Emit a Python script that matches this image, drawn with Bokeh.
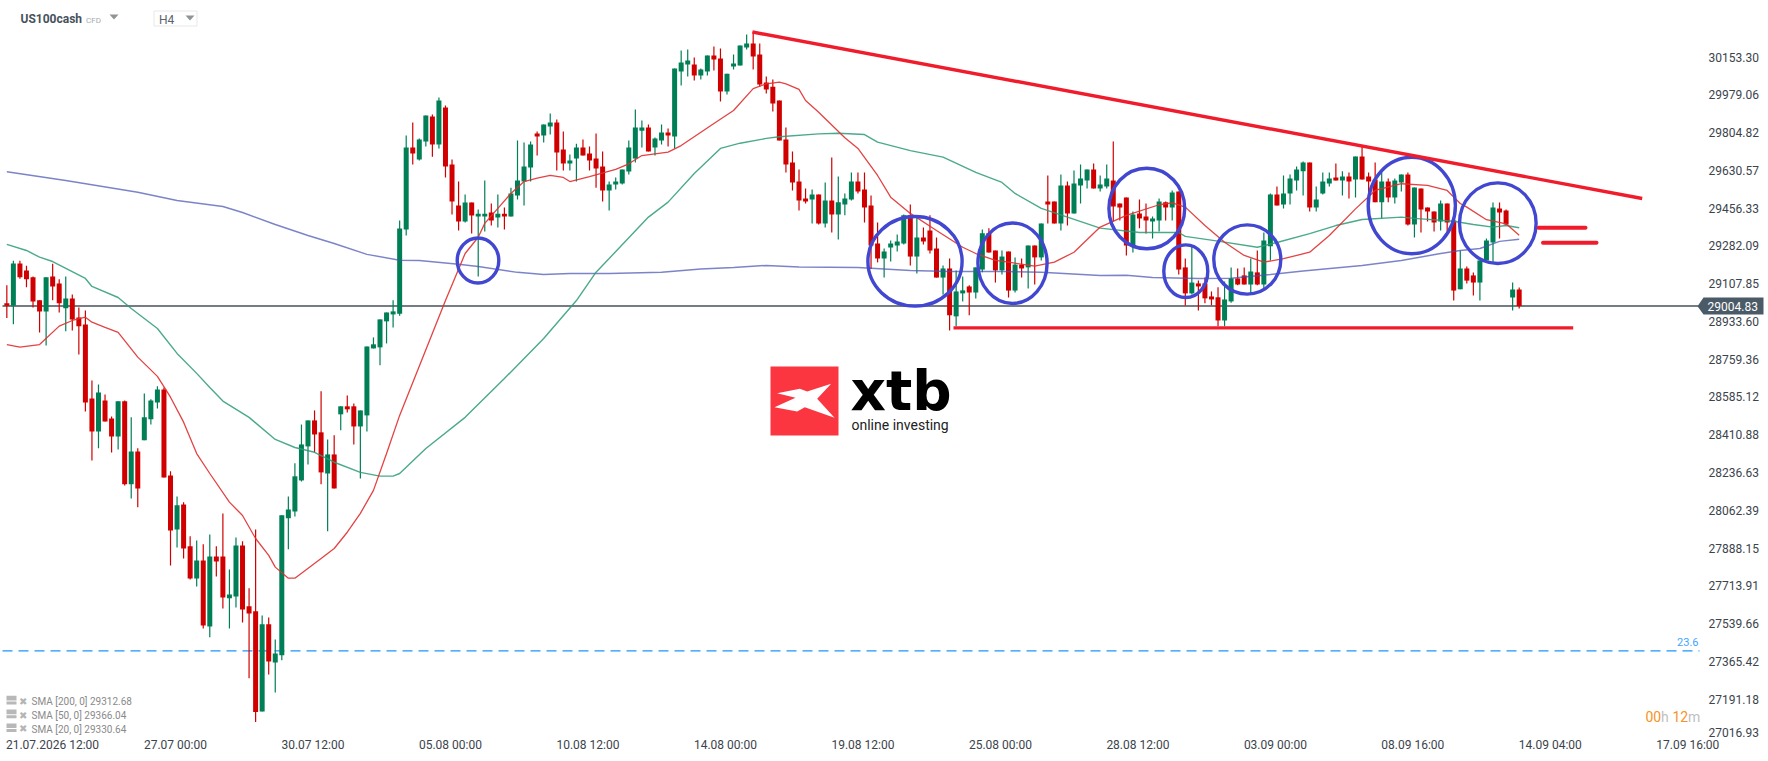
from bokeh.plotting import figure
from bokeh.models import Range1d, FixedTicker, ColumnDataSource, LinearAxis
from bokeh.core.properties import value
from bokeh.embed import file_html
from bokeh.resources import INLINE

open_ = [
29017,29006,29201,29169,29137,29031,28980,29141,29109,28994,
29040,28952,28920,28578,28426,28569,28486,28403,28565,28182,
28334,28385,28482,28560,28620,28223,27974,28089,27896,27748,
27831,27526,27849,27849,27656,27665,27900,27619,27596,27134,
27536,27360,27393,28025,28057,28200,28357,28477,28422,28232,
28320,28505,28542,28542,28449,28500,28809,28814,28934,28966,
28969,29358,29736,29681,29764,29879,29750,29921,29658,29468,
29395,29482,29418,29418,29436,29413,29431,29418,29515,29579,
29644,29801,29791,29833,29851,29727,29662,29685,29736,29708,
29685,29648,29538,29565,29570,29625,29685,29814,29828,29736,
29768,29805,29787,30087,30119,30119,30068,30087,30161,30147,
29994,30110,30114,30197,30216,30165,30036,30017,29953,29773,
29667,29579,29501,29496,29519,29386,29492,29427,29473,29496,
29579,29542,29469,29293,29224,29275,29284,29293,29423,29233,
29321,29353,29270,29136,29178,28957,29063,29095,29067,29173,
29340,29261,29169,29256,29076,29196,29183,29284,29229,29487,
29487,29386,29561,29432,29561,29584,29635,29547,29556,29584,
29478,29506,29284,29432,29418,29395,29399,29483,29459,29533,
29183,29063,29109,29109,29049,29045,28938,29026,29132,29146,
29104,29160,29104,29280,29519,29473,29524,29584,29626,29667,
29459,29524,29570,29598,29584,29602,29589,29695,29602,29589,
29483,29579,29506,29575,29612,29381,29547,29459,29441,29395,
29478,29399,29082,29178,29146,29113,29215,29298,29455,29445,29044,29081]
high = [
29100,29214,29214,29191,29141,29031,29137,29200,29128,29141,
29058,28998,28984,28661,28643,28597,28495,28565,28569,28491,
28348,28601,28574,28634,28629,28242,28126,28099,27942,27923,
27905,27951,27896,28048,27789,27937,27919,27702,27974,27577,
27568,27466,28039,28126,28279,28458,28477,28523,28611,28389,
28408,28542,28592,28555,28523,28818,28860,28943,28975,29031,
29399,29791,29851,29778,29884,29888,29967,29930,29681,29579,
29519,29482,29450,29584,29478,29519,29459,29551,29768,29759,
29764,29810,29842,29893,29865,29810,29704,29754,29773,29741,
29801,29718,29579,29598,29635,29768,29911,29861,29842,29782,
29842,29824,30101,30184,30188,30151,30101,30161,30202,30193,
30077,30165,30207,30257,30271,30216,30064,30050,29953,29829,
29718,29635,29547,29542,29519,29575,29690,29602,29524,29621,
29621,29621,29515,29390,29270,29307,29335,29427,29473,29423,
29367,29423,29321,29192,29224,29169,29141,29100,29183,29358,
29363,29261,29261,29256,29229,29224,29284,29284,29386,29607,
29487,29612,29579,29630,29658,29635,29662,29607,29658,29764,
29478,29506,29441,29496,29478,29418,29501,29487,29538,29533,
29224,29284,29123,29136,29072,29091,29118,29183,29178,29183,
29224,29261,29344,29524,29556,29607,29612,29649,29672,29667,
29556,29621,29621,29662,29626,29621,29695,29746,29621,29667,
29630,29593,29593,29612,29621,29552,29547,29459,29441,29492,
29478,29409,29261,29187,29159,29215,29316,29482,29482,29450,29113,29090]
low = [
28949,28921,29131,29091,28998,28883,28823,29031,28975,28888,
28892,28781,28518,28292,28348,28472,28329,28343,28177,28117,
28076,28385,28458,28532,28214,27808,27891,27840,27743,27711,
27517,27476,27757,27609,27517,27614,27545,27287,27085,27134,
27305,27222,27370,27882,28034,28195,28274,28329,28182,27965,
28163,28431,28514,28366,28209,28426,28809,28731,28832,28906,
28960,29330,29658,29676,29741,29694,29731,29598,29427,29353,
29390,29339,29141,29348,29376,29367,29358,29418,29496,29468,
29579,29699,29759,29796,29630,29630,29630,29579,29699,29630,
29551,29487,29445,29542,29565,29611,29667,29736,29718,29699,
29750,29741,29731,30022,30064,30045,30050,30068,30091,29948,
29981,30096,30114,30188,30096,30017,29985,29902,29768,29621,
29538,29446,29478,29386,29381,29367,29344,29312,29423,29492,
29524,29390,29176,29206,29136,29210,29256,29289,29192,29155,
29289,29247,29136,29058,28892,28911,29026,28962,29040,29160,
29252,29113,29150,29044,29067,29136,29086,29104,29215,29386,
29386,29353,29376,29432,29478,29547,29547,29533,29547,29395,
29399,29238,29252,29363,29339,29316,29349,29399,29399,29150,
29007,29058,28984,29017,29008,28911,28911,29020,29100,29104,
29058,29100,29081,29215,29469,29455,29473,29538,29515,29441,
29441,29519,29556,29584,29515,29501,29506,29589,29492,29483,
29409,29483,29478,29533,29376,29321,29344,29395,29349,29353,
29344,29030,29082,29109,29053,29030,29215,29206,29316,29376,28984,28993]
close = [
29006,29201,29137,29128,29026,28980,29137,29095,29017,29040,
28943,28911,28560,28426,28606,28472,28403,28565,28182,28334,
28163,28491,28569,28620,28214,27969,28085,27886,27748,27831,
27531,27849,27826,27660,27674,27900,27605,27586,27131,27536,
27365,27402,28039,28066,28219,28366,28477,28412,28237,28320,
28163,28542,28528,28449,28523,28818,28828,28943,28975,28980,
29362,29736,29708,29773,29884,29750,29953,29648,29487,29395,
29482,29422,29431,29431,29399,29431,29418,29524,29584,29648,
29750,29787,29842,29851,29713,29662,29676,29736,29699,29676,
29639,29538,29565,29579,29635,29736,29828,29828,29718,29778,
29805,29791,30101,30128,30137,30068,30096,30161,30142,29994,
30077,30124,30207,30216,30156,30027,30004,29939,29768,29658,
29575,29492,29487,29519,29386,29492,29427,29483,29501,29579,
29533,29459,29284,29224,29256,29293,29303,29423,29233,29321,
29303,29261,29136,29178,28962,29072,29077,29067,29183,29340,
29252,29169,29233,29076,29196,29178,29284,29229,29386,29473,
29386,29561,29432,29570,29593,29635,29547,29566,29593,29464,
29459,29284,29427,29409,29399,29409,29487,29459,29529,29173,
29063,29113,29095,29040,29035,28938,29035,29132,29104,29104,
29164,29104,29307,29519,29469,29524,29593,29635,29667,29459,
29496,29579,29593,29584,29602,29579,29695,29589,29579,29483,
29579,29506,29584,29612,29381,29552,29450,29441,29390,29478,
29390,29076,29178,29122,29113,29215,29307,29459,29436,29381,29081,29004.83]

sma200_i = [1,10,21,27,34,37,42,47,51,56,61,64,70,73,79,83,87,93,101,107,112,117,122,131,139,145,153,159,168,172,176,183,188,194,199,208,214,220,223,226,229,232]
sma200_v = [29624,29584,29530,29492,29464,29436,29381,29330,29293,29243,29216,29215,29198,29187,29160,29150,29155,29155,29160,29175,29183,29192,29185,29183,29169,29164,29164,29160,29146,29147,29136,29132,29133,29150,29166,29192,29215,29247,29261,29270,29303,29313]

sma50_i = [1,4,6,8,13,14,18,20,24,27,30,32,34,38,42,45,48,51,55,58,60,61,65,71,77,83,88,91,93,99,102,106,110,113,117,119,125,128,132,134,139,144,149,153,155,159,163,168,174,180,181,186,192,195,200,204,208,214,216,222,225,228,230,232]
sma50_v = [29289,29261,29230,29210,29132,29095,29044,28993,28901,28786,28694,28629,28566,28491,28389,28352,28330,28284,28237,28220,28220,28232,28347,28491,28670,28855,29030,29161,29224,29415,29484,29616,29732,29756,29778,29786,29799,29802,29796,29761,29722,29692,29621,29575,29524,29455,29415,29364,29344,29344,29326,29304,29276,29298,29339,29376,29404,29415,29409,29396,29381,29369,29376,29366]

sma20_i = [1,3,6,9,11,13,14,16,18,21,24,26,28,30,32,35,37,39,41,42,44,45,49,51,53,55,57,59,61,68,71,73,74,76,78,80,82,84,86,87,90,94,96,98,102,104,109,112,115,117,119,120,122,123,125,129,131,134,136,139,143,147,149,152,154,158,161,164,168,172,177,179,181,184,187,190,193,196,200,203,207,210,214,218,221,223,224,227,230,232]
sma20_v = [28827,28815,28827,28912,28938,28953,28930,28906,28883,28769,28680,28584,28469,28324,28232,28100,28038,27932,27854,27800,27749,27749,27840,27886,27961,28048,28154,28324,28500,29030,29247,29322,29386,29455,29524,29579,29595,29608,29598,29579,29602,29635,29661,29699,29715,29745,29847,29907,30008,30030,30038,30030,30004,29953,29899,29781,29732,29607,29507,29432,29353,29276,29247,29215,29207,29189,29207,29253,29369,29423,29472,29481,29461,29376,29299,29238,29207,29223,29253,29330,29453,29538,29569,29561,29538,29478,29461,29403,29384,29331]

price_ticks = [30153.30,29979.06,29804.82,29630.57,29456.33,29282.09,29107.85,28933.60,28759.36,28585.12,28410.88,28236.63,28062.39,27888.15,27713.91,27539.66,27365.42,27191.18,27016.93]
date_labels = ["21.07.2026 12:00","27.07 00:00","30.07 12:00","05.08 00:00","10.08 12:00","14.08 00:00","19.08 12:00","25.08 00:00","28.08 12:00","03.09 00:00","08.09 16:00","14.09 04:00","17.09 16:00"]
date_pos = [7.98,26.76,47.76,68.76,89.76,110.76,131.76,152.76,173.76,194.76,215.76,236.76,257.76]
last_price = 29004.83
fib_level = 27414
support = 28904
legend_rows = ["SMA [200, 0] 29312.68","SMA [50, 0] 29366.04","SMA [20, 0] 29330.64"]

def X(px): return 1 + (px - 6.33) / 6.547
def Y(py): return last_price + (305.5 - py) * 4.614

GREEN, RED = "#007f56", "#d10000"
W, H = 1768, 761
FH = 736
p = figure(width=W, height=H, output_backend="svg", toolbar_location=None,
           x_range=Range1d(X(0), X(W)), y_range=Range1d(Y(FH), Y(0)),
           min_border_left=0, min_border_top=0, min_border_right=0, min_border_bottom=H-FH,
           x_axis_location=None, y_axis_location=None, background_fill_color="white", border_fill_color="white")
p.grid.visible = False
p.outline_line_color = None

ra = LinearAxis(ticker=FixedTicker(ticks=price_ticks[:-1] + [27038.0]),
                major_label_overrides={**{t: f"{t:.2f}" for t in price_ticks[:-1]}, 27038.0: "27016.93"})
ba = LinearAxis(ticker=FixedTicker(ticks=date_pos),
                major_label_overrides=dict(zip(date_pos, date_labels)))
for ax in (ra, ba):
    ax.axis_line_color = None
    ax.major_tick_line_color = None
    ax.minor_tick_line_color = None
    ax.major_tick_out = 0
    ax.major_tick_in = 0
    ax.major_label_text_font = "Roboto"
    ax.major_label_text_font_size = "12px"
    ax.major_label_text_color = "#3b444c"
ra.major_label_standoff = 1708 - W
ba.major_label_standoff = 1
p.add_layout(ra, "right")
p.add_layout(ba, "below")

# reference lines
p.line([X(2), X(1699)], [fib_level, fib_level], line_color="#1e96fc", line_width=1.2, line_dash="10 6")
p.line([X(2), X(1698)], [last_price, last_price], line_color="#47525a", line_width=1.5)

# candles
idx = list(range(1, len(close) + 1))
cols = [GREEN if c >= o else RED for o, c in zip(open_, close)]
src = ColumnDataSource(dict(x=idx, o=open_, h=high, l=low, c=close, color=cols,
                            t=[max(a, b) for a, b in zip(open_, close)],
                            b=[min(a, b) for a, b in zip(open_, close)]))
p.segment("x", "h", "x", "l", source=src, line_color="color", line_width=1.2)
p.vbar("x", width=5/6.547, top="t", bottom="b", source=src, fill_color="color", line_color=None)

# moving averages
p.line(sma200_i, sma200_v, line_color="#4450b0", line_width=1.5, line_alpha=0.7)
p.line(sma50_i, sma50_v, line_color="#2b9a78", line_width=1.4, line_alpha=0.85)
p.line(sma20_i, sma20_v, line_color="#e02f2f", line_width=1.3, line_alpha=0.9)

# drawn circles
cx = [477.5, 914.5, 1012, 1146.3, 1185.3, 1246.8, 1411.3, 1497.3]
cy = [260, 260.8, 262.7, 208, 270.7, 259, 205, 222.7]
rx = [22.5, 48.8, 36.3, 39.6, 23.7, 35.2, 45.3, 40]
ry = [24.3, 46.5, 42, 42, 28, 36.3, 50, 42]
p.ellipse([X(v) for v in cx], [Y(v) for v in cy], width=[2*(v-1.7) for v in rx], height=[2*(v-1.7) for v in ry],
          width_units="screen", height_units="screen", fill_color=None, line_color="#4147d0", line_width=3.4)

# drawn red lines
LINE = "#f01c2c"
p.line([X(752), X(1641.7)], [Y(31.5), Y(198)], line_color=LINE, line_width=3.4)
p.line([X(953), X(1572.7)], [support, support], line_color=LINE, line_width=3.2)
p.line([X(1538), X(1585)], [Y(227.3), Y(227.3)], line_color=LINE, line_width=4, line_cap="round")
p.line([X(1542.5), X(1596)], [Y(242.3), Y(242.3)], line_color=LINE, line_width=4, line_cap="round")

def txt(px, py, s, size, color, font="Roboto", style="normal", align="left"):
    p.text([X(px)], [Y(py)], text=[s], text_font=value(font), text_font_size=size, text_font_style=style,
           text_color=color, text_align=align, text_baseline="middle")

def poly(pts, color, line=None):
    p.patch([X(a) for a, b in pts], [Y(b) for a, b in pts], fill_color=color, line_color=line)

# header
txt(20, 18.5, "US100cash", "12px", "#46525c", style="bold")
txt(85.5, 19.5, "CFD", "8px", "#a5abb0")
poly([(109, 14), (118, 14), (113.5, 19)], "#8f9497")
p.quad(left=[X(153.5)], right=[X(196.5)], top=[Y(10.5)], bottom=[Y(25.5)], fill_color="white", line_color="#e8e8e8")
txt(158.5, 19.5, "H4", "12px", "#5a646c")
poly([(185, 15), (194, 15), (189.5, 20)], "#8f9497")

# logo
p.quad(left=[X(770)], right=[X(838)], top=[Y(366)], bottom=[Y(435)], fill_color="#fb3640", line_color=None)
Lx, Ly = 760, 355
mark = [(50,113),(118,100),(140,108),(212,85),(170,130),(222,187),(133,155),(110,168),(42,155),(105,127)]
poly([(Lx + a/3, Ly + b/3) for a, b in mark], "white")
txt(850, 390.5, "xtb", "55px", "black", font="DejaVu Sans", style="bold")
txt(851, 424, "online investing", "14px", "#222222")

# legend
for k, s in enumerate(legend_rows):
    py = 701.3 + 13.8 * k
    p.quad(left=[X(6)], right=[X(16)], top=[Y(py-6)], bottom=[Y(py-1.3)], fill_color="#b8b8b8", line_color=None)
    p.quad(left=[X(6)], right=[X(16)], top=[Y(py-0.3)], bottom=[Y(py+2.7)], fill_color="#b8b8b8", line_color=None)
    txt(18.5, py-0.5, "\u2716", "10px", "#b5b5b5", font="DejaVu Sans")
    txt(31, py, s, "10px", "#8a8a8a")

# fib + timer
txt(1698, 641, "23.6", "11px", "#3ea6ff", align="right")
txt(1645, 716, "00", "14px", "#f7931e")
txt(1660.5, 716, "h", "14px", "#c0c0c0")
txt(1672, 716, "12", "14px", "#f7931e")
txt(1687.5, 716, "m", "14px", "#c0c0c0")

# price tag
TAG = "#4a5a66"
poly([(1697, 305.7), (1703, 297), (1763, 297), (1763, 314), (1703, 314)], TAG)
txt(1707, 306, f"{last_price:.2f}", "12px", "white")

open("out.html", "w").write(file_html(p, INLINE))
